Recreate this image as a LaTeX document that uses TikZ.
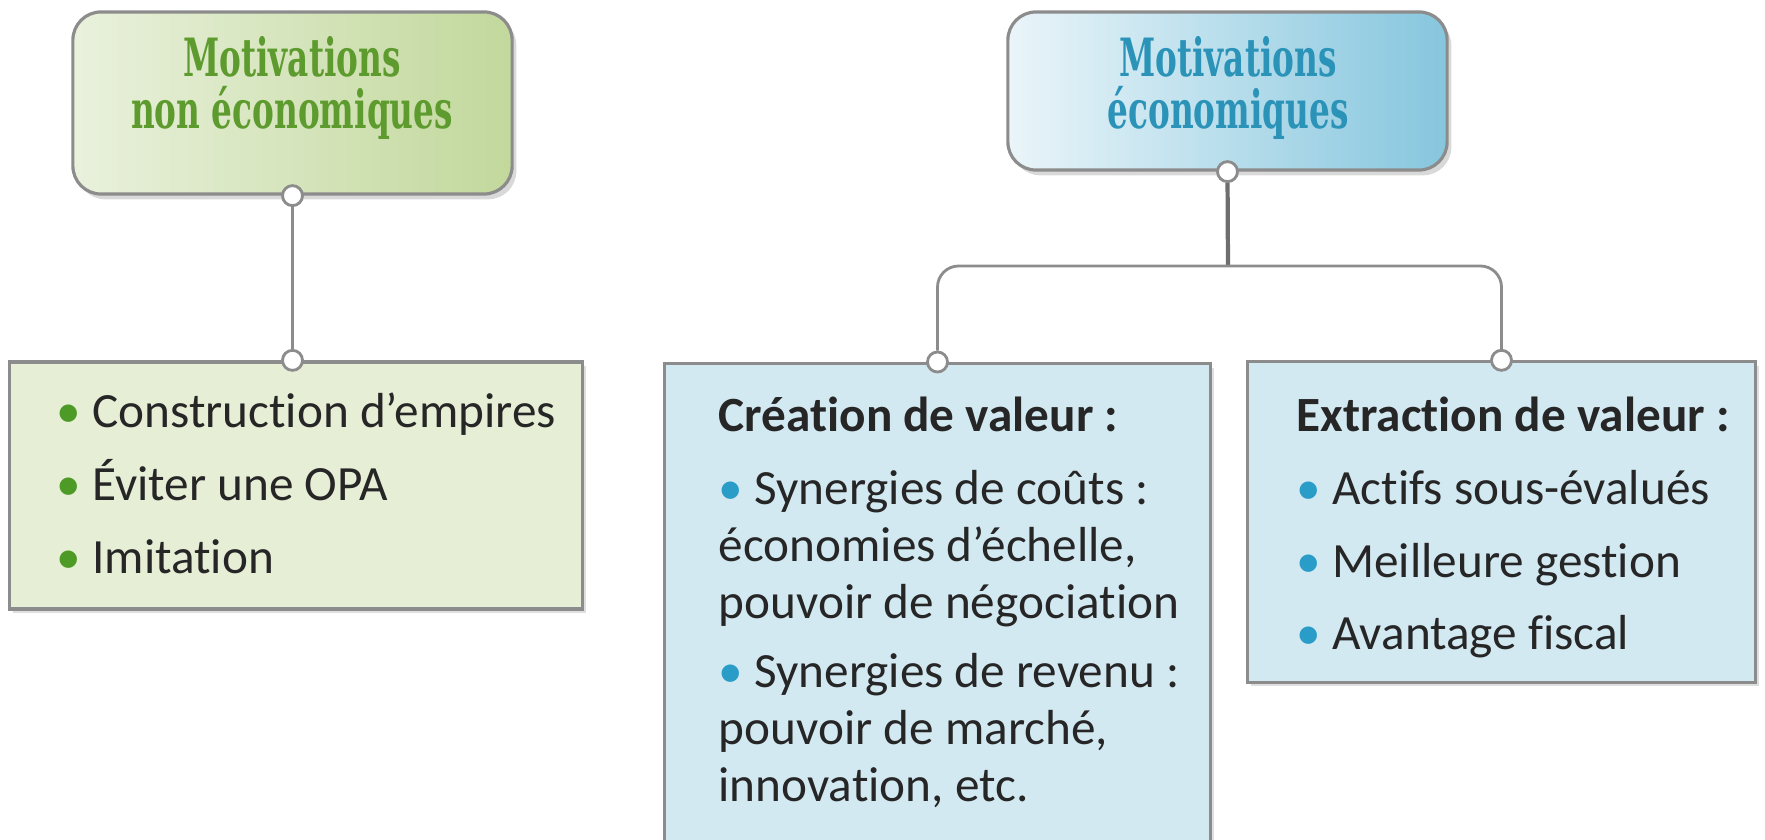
\documentclass[tikz,border=0pt]{standalone}
\usepackage{fontspec}
\setmainfont{Carlito}[Ligatures=NoCommon]
\newfontfamily\titlefont[FakeStretch=0.62]{DejaVu Serif}
\usetikzlibrary{shadows,positioning}

\definecolor{titlegreen}{HTML}{5E9B2E}
\definecolor{titleblue}{HTML}{2B93B8}
\definecolor{boxgreen}{HTML}{E6EED6}
\definecolor{boxblue}{HTML}{D3E9F2}
\definecolor{dotgreen}{HTML}{4E9A26}
\definecolor{dotblue}{HTML}{2A9CC8}
\definecolor{edgegray}{HTML}{8C8C8C}
\definecolor{stemgray}{HTML}{6E6E6E}
\definecolor{inkgray}{HTML}{262626}

\tikzset{
  topbox/.style={draw=edgegray, line width=0.9pt, rounded corners=8pt,
    minimum width=4.39cm,
    drop shadow={opacity=0.3, shadow xshift=1.2pt, shadow yshift=-1.5pt}},
  listbox/.style={draw=edgegray, line width=0.9pt,
    drop shadow={opacity=0.25, shadow xshift=1pt, shadow yshift=-1.2pt}},
  knob/.style={circle, draw=edgegray, fill=white, line width=0.8pt,
    minimum size=0.2cm, inner sep=0pt},
  conn/.style={edgegray, line width=0.8pt},
  heading/.style={font=\titlefont\bfseries\fontsize{15}{15}\selectfont, align=center},
  item/.style={anchor=base west, inner sep=0pt, text=inkgray,
    font=\fontsize{14}{17}\selectfont},
}

\begin{document}
\begin{tikzpicture}[x=0.01cm, y=-0.01cm]
    \clip (0,0) rectangle (1765,840);

    % top boxes
    \node[topbox, minimum height=1.82cm, left color={rgb,255:red,233;green,241;blue,220}, right color={rgb,255:red,194;green,216;blue,156}] (nonecon) at (292.5,103) {};
    \node[heading, text=titlegreen] (nonecontxt) at (292,88) {Motivations\\non économiques};
    \node[topbox, minimum height=1.58cm, left color={rgb,255:red,234;green,245;blue,249}, right color={rgb,255:red,134;green,198;blue,222}] (econ) at (1227.5,91) {};
    \node[heading, text=titleblue] (econtxt) at (1228,88) {Motivations\\économiques};

    % lower boxes
    \node[listbox, fill=boxgreen, minimum width=5.72cm, minimum height=2.47cm] (nonecolist) at (296,485.5) {};
    \node[listbox, fill=boxblue, minimum width=5.45cm, minimum height=5.2cm, anchor=north] (creation) at (937.5,362) {};
    \node[listbox, fill=boxblue, minimum width=5.07cm, minimum height=3.2cm] (extraction) at (1501.5,522) {};

    % connectors
    \node[knob] (k1) at (nonecon.south) {};
    \node[knob] (k2) at (nonecon.south |- nonecolist.north) {};
    \node[knob] (k3) at (econ.south) {};
    \node[knob] (k4) at (creation.north) {};
    \node[knob] (k5) at (extraction.north) {};
    \coordinate (fork) at (1228,266);
    \draw[conn] (k1) -- (k2);
    \draw[conn, draw=stemgray, line width=1.2pt] (k3) -- (fork);
    \draw[conn, rounded corners=6pt] (k4) |- (fork) -| (k5);

    % left list
    \node[item] (empires) at (56,428) {\textcolor{dotgreen}{•} Construction d’empires};
    \node[item] (opa) at (56,501) {\textcolor{dotgreen}{•} Éviter une OPA};
    \node[item] (imitation) at (56,574) {\textcolor{dotgreen}{•} Imitation};

    % middle list
    \node[item] (creahead) at (718,432) {\bfseries Création de valeur :};
    \node[item] (couts) at (718,505) {\textcolor{dotblue}{•} Synergies de coûts :};
    \node[item] (echelle) at (718,562) {économies d’échelle,};
    \node[item] (nego) at (718,619) {pouvoir de négociation};
    \node[item] (revenu) at (718,688) {\textcolor{dotblue}{•} Synergies de revenu :};
    \node[item] (marche) at (718,745) {pouvoir de marché,};
    \node[item] (innov) at (718,802) {innovation, etc.};

    % right list
    \node[item] (extrhead) at (1296,432) {\bfseries Extraction de valeur :};
    \node[item] (actifs) at (1296,505) {\textcolor{dotblue}{•} Actifs sous-évalués};
    \node[item] (gestion) at (1296,578) {\textcolor{dotblue}{•} Meilleure gestion};
    \node[item] (fiscal) at (1296,650) {\textcolor{dotblue}{•} Avantage fiscal};
\end{tikzpicture}
\end{document}
